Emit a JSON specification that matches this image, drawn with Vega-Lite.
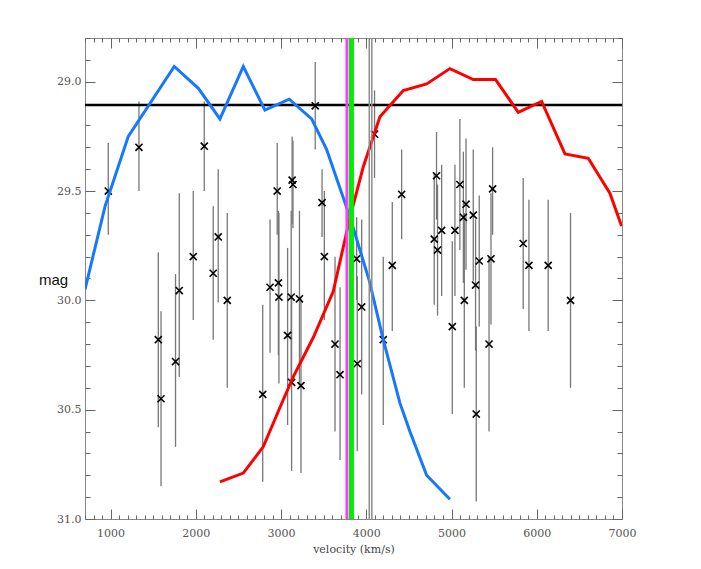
{
  "$schema": "https://vega.github.io/schema/vega-lite/v6.json",
  "width": 537,
  "height": 481,
  "autosize": "none",
  "padding": {"left": 85, "top": 38, "right": 79, "bottom": 50},
  "background": "white",
  "config": {"view": {"stroke": "#888", "strokeWidth": 1}},
  "datasets": {
    "pts": [
      {"v": 973, "m": 29.50, "lo": 29.28, "hi": 29.70},
      {"v": 1333, "m": 29.30, "lo": 29.09, "hi": 29.50},
      {"v": 1560, "m": 30.18, "lo": 29.78, "hi": 30.58},
      {"v": 1592, "m": 30.45, "lo": 30.05, "hi": 30.85},
      {"v": 1762, "m": 30.28, "lo": 29.88, "hi": 30.67},
      {"v": 1806, "m": 29.955, "lo": 29.51, "hi": 30.35},
      {"v": 1970, "m": 29.80, "lo": 29.50, "hi": 30.09},
      {"v": 2099, "m": 29.295, "lo": 29.09, "hi": 29.50},
      {"v": 2204, "m": 29.876, "lo": 29.57, "hi": 30.18},
      {"v": 2263, "m": 29.71, "lo": 29.40, "hi": 30.01},
      {"v": 2369, "m": 30.00, "lo": 29.60, "hi": 30.40},
      {"v": 2785, "m": 30.43, "lo": 30.02, "hi": 30.83},
      {"v": 2871, "m": 29.94, "lo": 29.63, "hi": 30.24},
      {"v": 2955, "m": 29.50, "lo": 29.28, "hi": 29.70},
      {"v": 2969, "m": 29.92, "lo": 29.59, "hi": 30.25},
      {"v": 2975, "m": 29.985, "lo": 29.60, "hi": 30.38},
      {"v": 3077, "m": 30.16, "lo": 29.76, "hi": 30.57},
      {"v": 3119, "m": 29.985, "lo": 29.59, "hi": 30.38},
      {"v": 3124, "m": 30.375, "lo": 29.98, "hi": 30.78},
      {"v": 3130, "m": 29.45, "lo": 29.25, "hi": 29.65},
      {"v": 3140, "m": 29.47, "lo": 29.27, "hi": 29.67},
      {"v": 3216, "m": 29.993, "lo": 29.59, "hi": 30.39},
      {"v": 3234, "m": 30.39, "lo": 29.99, "hi": 30.79},
      {"v": 3401, "m": 29.11, "lo": 28.91, "hi": 29.31},
      {"v": 3481, "m": 29.553, "lo": 29.40, "hi": 29.71},
      {"v": 3508, "m": 29.80, "lo": 29.50, "hi": 30.09},
      {"v": 3633, "m": 30.20, "lo": 29.80, "hi": 30.60},
      {"v": 3692, "m": 30.34, "lo": 29.94, "hi": 30.73},
      {"v": 3887, "m": 29.81, "lo": 29.62, "hi": 30.00},
      {"v": 3894, "m": 30.29, "lo": 29.89, "hi": 30.69},
      {"v": 3946, "m": 30.03, "lo": 29.63, "hi": 30.43},
      {"v": 4097, "m": 29.24, "lo": 29.04, "hi": 29.44},
      {"v": 4199, "m": 30.18, "lo": 29.80, "hi": 30.57},
      {"v": 4305, "m": 29.84, "lo": 29.55, "hi": 30.14},
      {"v": 4415, "m": 29.515, "lo": 29.31, "hi": 29.72},
      {"v": 4797, "m": 29.72, "lo": 29.42, "hi": 30.02},
      {"v": 4824, "m": 29.43, "lo": 29.23, "hi": 29.63},
      {"v": 4836, "m": 29.77, "lo": 29.47, "hi": 30.07},
      {"v": 4884, "m": 29.68, "lo": 29.38, "hi": 29.98},
      {"v": 5009, "m": 30.12, "lo": 29.73, "hi": 30.52},
      {"v": 5040, "m": 29.68, "lo": 29.38, "hi": 29.98},
      {"v": 5098, "m": 29.47, "lo": 29.17, "hi": 29.77},
      {"v": 5139, "m": 29.62, "lo": 29.32, "hi": 29.92},
      {"v": 5150, "m": 30.00, "lo": 29.60, "hi": 30.40},
      {"v": 5170, "m": 29.56, "lo": 29.26, "hi": 29.86},
      {"v": 5255, "m": 29.61, "lo": 29.31, "hi": 29.91},
      {"v": 5282, "m": 29.93, "lo": 29.63, "hi": 30.23},
      {"v": 5290, "m": 30.52, "lo": 30.12, "hi": 30.92},
      {"v": 5325, "m": 29.82, "lo": 29.52, "hi": 30.12},
      {"v": 5440, "m": 30.20, "lo": 29.80, "hi": 30.60},
      {"v": 5463, "m": 29.81, "lo": 29.51, "hi": 30.11},
      {"v": 5482, "m": 29.49, "lo": 29.30, "hi": 29.70},
      {"v": 5841, "m": 29.74, "lo": 29.44, "hi": 30.04},
      {"v": 5908, "m": 29.84, "lo": 29.54, "hi": 30.14},
      {"v": 6134, "m": 29.84, "lo": 29.54, "hi": 30.14},
      {"v": 6396, "m": 30.00, "lo": 29.60, "hi": 30.40}
    ],
    "curves": [
      {"s": "blue", "v": 700, "m": 29.95},
      {"s": "blue", "v": 935, "m": 29.57},
      {"s": "blue", "v": 1208, "m": 29.25},
      {"s": "blue", "v": 1747, "m": 28.93},
      {"s": "blue", "v": 2030, "m": 29.03},
      {"s": "blue", "v": 2283, "m": 29.17},
      {"s": "blue", "v": 2557, "m": 28.93},
      {"s": "blue", "v": 2811, "m": 29.13},
      {"s": "blue", "v": 3096, "m": 29.08},
      {"s": "blue", "v": 3359, "m": 29.17},
      {"s": "blue", "v": 3535, "m": 29.31},
      {"s": "blue", "v": 3809, "m": 29.62},
      {"s": "blue", "v": 4035, "m": 29.91},
      {"s": "blue", "v": 4199, "m": 30.18},
      {"s": "blue", "v": 4395, "m": 30.47},
      {"s": "blue", "v": 4512, "m": 30.60},
      {"s": "blue", "v": 4708, "m": 30.80},
      {"s": "blue", "v": 4981, "m": 30.91},
      {"s": "red", "v": 2283, "m": 30.83},
      {"s": "red", "v": 2557, "m": 30.79},
      {"s": "red", "v": 2791, "m": 30.67},
      {"s": "red", "v": 2987, "m": 30.49},
      {"s": "red", "v": 3143, "m": 30.35},
      {"s": "red", "v": 3378, "m": 30.17},
      {"s": "red", "v": 3612, "m": 29.96},
      {"s": "red", "v": 3809, "m": 29.62},
      {"s": "red", "v": 3964, "m": 29.39},
      {"s": "red", "v": 4160, "m": 29.16},
      {"s": "red", "v": 4434, "m": 29.04},
      {"s": "red", "v": 4708, "m": 29.01},
      {"s": "red", "v": 4981, "m": 28.94},
      {"s": "red", "v": 5255, "m": 28.99},
      {"s": "red", "v": 5517, "m": 28.99},
      {"s": "red", "v": 5783, "m": 29.14},
      {"s": "red", "v": 6057, "m": 29.09},
      {"s": "red", "v": 6331, "m": 29.33},
      {"s": "red", "v": 6604, "m": 29.35},
      {"s": "red", "v": 6858, "m": 29.51},
      {"s": "red", "v": 6995, "m": 29.66}
    ],
    "vlines": [
      {"k": "g1", "v": 4035},
      {"k": "g2", "v": 4065},
      {"k": "mag", "v": 3773},
      {"k": "grn", "v": 3826}
    ],
    "hline": [{"m": 29.107}]
  },
  "layer": [
    {
      "data": {"name": "pts"},
      "mark": {"type": "rule", "color": "#777", "strokeWidth": 1.3},
      "encoding": {
        "x": {
          "field": "v", "type": "quantitative",
          "scale": {"domain": [700, 7000], "nice": false, "zero": false},
          "axis": {
            "orient": "bottom",
            "values": [700,800,900,1000,1100,1200,1300,1400,1500,1600,1700,1800,1900,2000,2100,2200,2300,2400,2500,2600,2700,2800,2900,3000,3100,3200,3300,3400,3500,3600,3700,3800,3900,4000,4100,4200,4300,4400,4500,4600,4700,4800,4900,5000,5100,5200,5300,5400,5500,5600,5700,5800,5900,6000,6100,6200,6300,6400,6500,6600,6700,6800,6900,7000],
            "labelExpr": "datum.value % 1000 === 0 ? '' + datum.value : ''",
            "tickSize": {"condition": {"test": "datum.value % 1000 === 0", "value": -10}, "value": -4},
            "tickColor": "#666",
            "tickWidth": 1,
            "domain": false,
            "grid": false,
            "labelOverlap": false,
            "labelFlush": false,
            "labelBound": false,
            "labelFont": "DejaVu Serif",
            "labelFontSize": 11,
            "labelColor": "#555",
            "labelPadding": 18,
            "title": "velocity (km/s)",
            "titleFont": "DejaVu Serif",
            "titleFontSize": 11,
            "titleFontWeight": "normal",
            "titleColor": "#444",
            "titleY": 30,
            "titleBaseline": "middle"
          }
        },
        "y": {
          "field": "lo", "type": "quantitative",
          "scale": {"domain": [28.8, 31.0], "reverse": true, "nice": false, "zero": false},
          "axis": {
            "orient": "left",
            "values": [28.8,28.9,29.0,29.1,29.2,29.3,29.4,29.5,29.6,29.7,29.8,29.9,30.0,30.1,30.2,30.3,30.4,30.5,30.6,30.7,30.8,30.9,31.0],
            "labelExpr": "abs(datum.value*2 - round(datum.value*2)) < 0.01 ? format(datum.value, '.1f') : ''",
            "tickSize": {"condition": {"test": "abs(datum.value*2 - round(datum.value*2)) < 0.01", "value": -10}, "value": -5},
            "tickColor": "#666",
            "tickWidth": 1,
            "domain": false,
            "grid": false,
            "labelOverlap": false,
            "labelFlush": false,
            "labelBound": false,
            "labelFont": "DejaVu Serif",
            "labelFontSize": 11,
            "labelColor": "#555",
            "labelPadding": 14,
            "title": "mag",
            "titleFont": "Liberation Sans",
            "titleFontSize": 15,
            "titleFontWeight": "normal",
            "titleColor": "#111",
            "titleAngle": 0,
            "titleX": -32,
            "titleY": 241,
            "titleAlign": "center",
            "titleBaseline": "middle"
          }
        },
        "y2": {"field": "hi"}
      }
    },
    {
      "data": {"name": "pts"},
      "mark": {"type": "point", "shape": "M-1,-1L1,1M-1,1L1,-1", "size": 50, "filled": false, "stroke": "black", "strokeWidth": 1.6, "opacity": 1},
      "encoding": {
        "x": {
          "field": "v", "type": "quantitative",
          "axis": {
            "orient": "top",
            "values": [700,800,900,1000,1100,1200,1300,1400,1500,1600,1700,1800,1900,2000,2100,2200,2300,2400,2500,2600,2700,2800,2900,3000,3100,3200,3300,3400,3500,3600,3700,3800,3900,4000,4100,4200,4300,4400,4500,4600,4700,4800,4900,5000,5100,5200,5300,5400,5500,5600,5700,5800,5900,6000,6100,6200,6300,6400,6500,6600,6700,6800,6900,7000],
            "labels": false,
            "tickSize": {"condition": {"test": "datum.value % 1000 === 0", "value": -10}, "value": -4},
            "tickColor": "#666",
            "tickWidth": 1,
            "domain": false,
            "grid": false,
            "title": null
          }
        },
        "y": {
          "field": "m", "type": "quantitative",
          "axis": {
            "orient": "right",
            "values": [28.8,28.9,29.0,29.1,29.2,29.3,29.4,29.5,29.6,29.7,29.8,29.9,30.0,30.1,30.2,30.3,30.4,30.5,30.6,30.7,30.8,30.9,31.0],
            "labels": false,
            "tickSize": {"condition": {"test": "abs(datum.value*2 - round(datum.value*2)) < 0.01", "value": -10}, "value": -5},
            "tickColor": "#666",
            "tickWidth": 1,
            "domain": false,
            "grid": false,
            "title": null
          }
        }
      }
    },
    {
      "data": {"name": "hline"},
      "mark": {"type": "rule", "color": "black", "strokeWidth": 2.5},
      "encoding": {
        "y": {"field": "m", "type": "quantitative", "axis": null}
      }
    },
    {
      "data": {"name": "curves"},
      "mark": {"type": "line", "strokeWidth": 3, "clip": true},
      "encoding": {
        "x": {"field": "v", "type": "quantitative", "axis": null},
        "y": {"field": "m", "type": "quantitative", "axis": null},
        "color": {"field": "s", "type": "nominal", "scale": {"domain": ["blue", "red"], "range": ["#1677ff", "#ff0000"]}, "legend": null},
        "detail": {"field": "s"}
      }
    },
    {
      "data": {"name": "vlines"},
      "transform": [{"filter": "datum.k == 'g1' || datum.k == 'g2'"}],
      "mark": {"type": "rule", "color": "#8c8c8c", "strokeWidth": 1.5},
      "encoding": {
        "x": {"field": "v", "type": "quantitative", "axis": null}
      }
    },
    {
      "data": {"name": "vlines"},
      "transform": [{"filter": "datum.k == 'mag'"}],
      "mark": {"type": "rule", "color": "#ff3cff", "strokeWidth": 3},
      "encoding": {
        "x": {"field": "v", "type": "quantitative", "axis": null}
      }
    },
    {
      "data": {"name": "vlines"},
      "transform": [{"filter": "datum.k == 'grn'"}],
      "mark": {"type": "rule", "color": "#00ee00", "strokeWidth": 5},
      "encoding": {
        "x": {"field": "v", "type": "quantitative", "axis": null}
      }
    }
  ],
  "resolve": {"axis": {"x": "independent", "y": "independent"}}
}
